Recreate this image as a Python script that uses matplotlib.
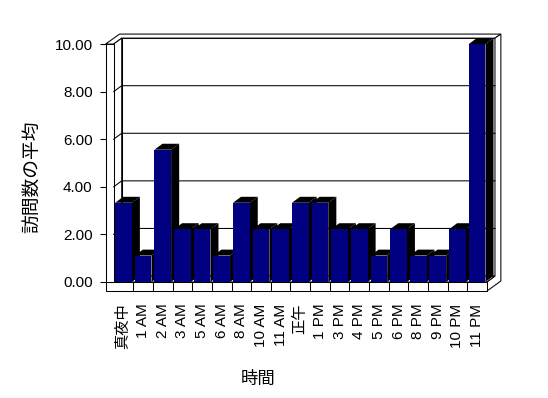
import numpy as np
import matplotlib
matplotlib.use('Agg')
import matplotlib.pyplot as plt

plt.rcParams['font.family'] = ['Liberation Sans', 'Noto Sans CJK JP', 'DejaVu Sans']

hours = ['真夜中', '1 AM', '2 AM', '3 AM', '5 AM', '6 AM', '8 AM', '10 AM', '11 AM',
         '正午', '1 PM', '3 PM', '4 PM', '5 PM', '6 PM', '8 PM', '9 PM', '10 PM', '11 PM']
avg_visits = [3.33, 1.11, 5.56, 2.22, 2.22, 1.11, 3.33, 2.22, 2.22,
              3.33, 3.33, 2.22, 2.22, 1.11, 2.22, 1.11, 1.11, 2.22, 10.0]
y_ticks = [0, 2, 4, 6, 8, 10]
y_tick_labels = ['0.00', '2.00', '4.00', '6.00', '8.00', '10.00']

bar_color = '#000080'
lw = 0.75

# 3d look: depth offset and slab thickness, in data units
DX, DY = 0.41, 0.25      # box depth
BX, BY = 0.30, 0.17      # back wall thickness
WT = 0.41                # left wall thickness
FT = 0.38                # floor thickness
ymax = 10

n = len(hours)
x0, x1 = -0.5, n - 0.5

fig = plt.figure(figsize=(5.48, 3.98), dpi=100)
ax = fig.add_axes([0.1927, 0.2688, 0.7471, 0.6683])
ax.set_xlim(x0 - WT, 19.93)
ax.set_ylim(-FT, 10.8)
for s in ax.spines.values():
    s.set_visible(False)
ax.patch.set_alpha(0)

def face(pts, fc='white', z=1):
    xs, ys = zip(*pts)
    ax.fill(xs, ys, facecolor=fc, edgecolor='black', linewidth=lw, zorder=z, clip_on=False)

# back wall
face([(x0 + DX, DY), (x1 + DX, DY), (x1 + DX, ymax + DY), (x0 + DX, ymax + DY)])
# top of the walls
face([(x0 - WT, ymax), (x0, ymax), (x0 + DX, ymax + DY), (x1 + DX, ymax + DY),
      (x1 + DX + BX, ymax + DY + BY), (x0 - WT + DX + BX, ymax + DY + BY)])
# right side of floor and back wall
face([(x1, 0), (x1, -FT), (x1 + DX + BX, -FT + DY + BY), (x1 + DX + BX, ymax + DY + BY),
      (x1 + DX, ymax + DY), (x1 + DX, DY)])
# left wall inner side
face([(x0, 0), (x0, ymax), (x0 + DX, ymax + DY), (x0 + DX, DY)])
# floor top
face([(x0, 0), (x1, 0), (x1 + DX, DY), (x0 + DX, DY)])
# floor front and left wall front
face([(x0 - WT, -FT), (x1, -FT), (x1, 0), (x0 - WT, 0)])
face([(x0 - WT, 0), (x0, 0), (x0, ymax), (x0 - WT, ymax)])

# gridlines on left wall and back wall
for v in y_ticks[1:-1]:
    ax.plot([x0, x0 + DX, x1 + DX], [v, v + DY, v + DY], color='black', linewidth=lw,
            zorder=1.5, clip_on=False)

# category separators on the floor front
for k in range(1, n):
    ax.plot([x0 + k, x0 + k], [-FT, 0], color='black', linewidth=lw, zorder=2)

# bars: side and top faces, then the front
bw = 0.85
xs = np.arange(n)
for i, v in enumerate(avg_visits):
    xl, xr = xs[i] - bw / 2, xs[i] + bw / 2
    z = 3 + i * 0.01
    ax.fill([xr, xr + DX, xr + DX, xr], [0, DY, v + DY, v], color='black', linewidth=0, zorder=z)
    ax.fill([xl, xr, xr + DX, xl + DX], [v, v, v + DY, v + DY], color='black', linewidth=0, zorder=z)
    ax.bar(xs[i], v, width=bw, color=bar_color, linewidth=0, zorder=z + 0.005)

ax.set_yticks(y_ticks, y_tick_labels, fontsize=11)
ax.tick_params(axis='y', length=6 * 0.72, width=lw, pad=5, direction='out')
ax.set_xticks(xs, hours, rotation=90, fontsize=11)
ax.tick_params(axis='x', length=0, pad=9)

ax.set_xlabel('時間', fontsize=12.5)
ax.xaxis.set_label_coords(0.372, -0.30)
ax.set_ylabel('訪問数の平均', fontsize=13.5)
ax.yaxis.set_label_coords(-0.155, 0.43)

fig.savefig('out.png', dpi=100)
